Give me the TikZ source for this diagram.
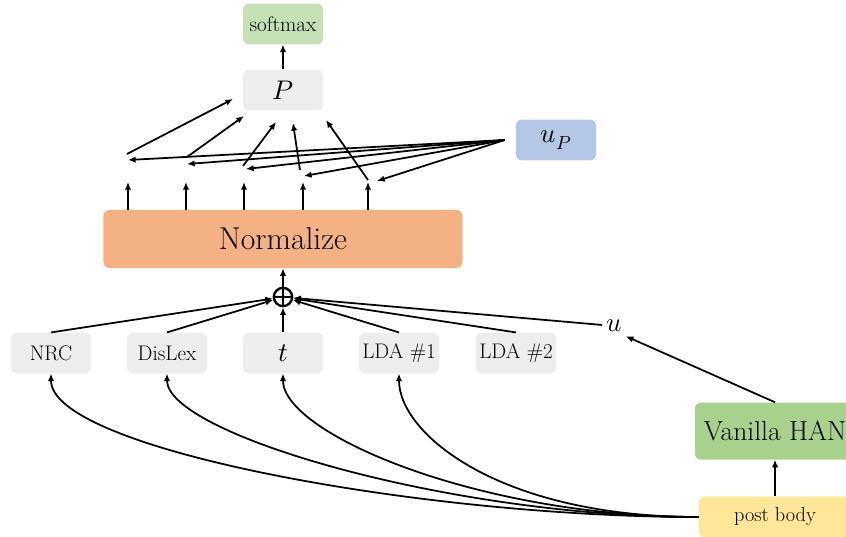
\documentclass[tikz,border=0pt]{standalone}
\usepackage{unicode-math}
\usetikzlibrary{arrows.meta}
\definecolor{softgreen}{HTML}{C5E0B4}
\definecolor{boxgray}{HTML}{EDEDED}
\definecolor{upblue}{HTML}{B4C7E7}
\definecolor{normorange}{HTML}{F4B183}
\definecolor{hangreen}{HTML}{A9D18E}
\definecolor{postyellow}{HTML}{FFE699}
\begin{document}
\begin{tikzpicture}[x=0.03cm, y=-0.03cm,
    box/.style={rounded corners=5pt, minimum width=2.4cm, minimum height=1.22cm, inner sep=0pt, font=\fontsize{18}{20}\selectfont},
    mathtxt/.style={font=\fontsize{23}{25}\selectfont},
    arr/.style={-{Latex[length=6.5pt,width=5.5pt]}, line width=1.5pt}]
    \useasboundingbox (0,0) rectangle (846,537);
    \node[box, fill=softgreen] (softmax) at (283,24) {softmax};
    \node[box, mathtxt, fill=boxgray] (P) at (283,90) {$P$};
    \node[box, mathtxt, fill=upblue] (uP) at (556,140) {$u_P$};
    \node[box, fill=normorange, minimum width=10.77cm, minimum height=1.74cm, font=\fontsize{27}{30}\selectfont] (norm) at (283,239) {Normalize};
    \node[circle, draw, line width=2pt, minimum size=0.55cm, inner sep=0pt] (sum) at (283,297) {};
    \draw[line width=2pt] (sum.north) -- (sum.south) (sum.west) -- (sum.east);
    \node[box, fill=boxgray] (nrc) at (51,353) {NRC};
    \node[box, fill=boxgray] (dislex) at (167,353) {DisLex};
    \node[box, mathtxt, fill=boxgray] (t) at (283,353) {$t$};
    \node[box, fill=boxgray] (lda1) at (399,353) {LDA \#1};
    \node[box, fill=boxgray] (lda2) at (516,353) {LDA \#2};
    \node[mathtxt] (u) at (614,326) {$u$};
    \node[box, fill=hangreen, minimum width=4.8cm, minimum height=1.71cm, font=\fontsize{23.5}{26}\selectfont] (han) at (775,431) {Vanilla HAN};
    \node[box, fill=postyellow, minimum width=4.56cm, font=\fontsize{17.3}{20}\selectfont] (post) at (775,517) {post body};

    \draw[arr] (P) -- (softmax);
    \draw[arr] (sum) -- (norm);
    \draw[arr] (post) -- (han);
    \draw[arr] (han.north) -- (u.south east);
    \foreach \b in {nrc,dislex,t,lda1,lda2}
        \draw[arr] (\b.north) -- (sum);
    \draw[arr] (u) -- (sum);
    \foreach \b/\dx/\dy in {nrc/280/75, dislex/250/60, t/220/60, lda1/200/60}
        \draw[arr] (post.west) .. controls +(-\dx,0) and +(0,\dy) .. (\b.south);

    \foreach \n/\x in {1/128, 2/186, 3/244, 4/303, 5/368} {
        \coordinate (h\n) at (\x,182);
        \draw[arr] (h\n |- norm.north) -- (h\n);
    }
    \foreach \n/\x/\y in {1/127/154, 2/187/157, 3/243/166, 4/300/170, 5/368/180}
        \coordinate (v\n) at (\x,\y);
    \foreach \n/\x/\y in {1/233/99, 2/244/116, 3/276/122, 4/293/123, 5/326/120}
        \coordinate (p\n) at (\x,\y);
    \foreach \n/\x/\y in {1/128/160, 2/187/164, 3/246/169, 4/304/176, 5/377/181}
        \coordinate (w\n) at (\x,\y);
    \coordinate (uPout) at ([xshift=-0.33cm]uP.west);
    \foreach \n in {1,...,5} {
        \draw[arr] (v\n) -- (p\n);
        \draw[arr] (uPout) -- (w\n);
    }
\end{tikzpicture}
\end{document}
